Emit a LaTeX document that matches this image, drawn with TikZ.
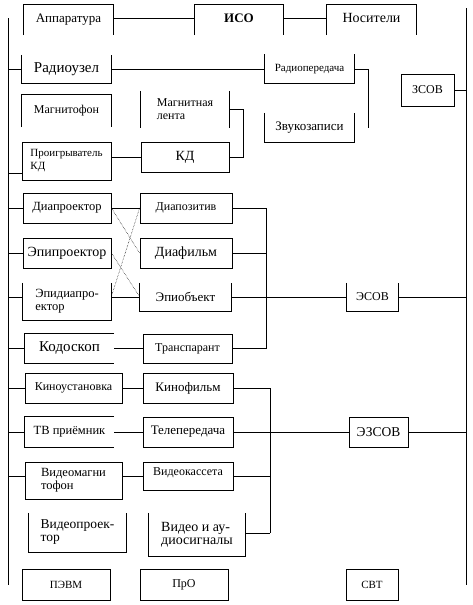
\documentclass[tikz,border=0pt]{standalone}
\usepackage{fontspec}
\setmainfont{Liberation Serif}
\usetikzlibrary{calc}
\newcommand\boxOpenTop[1]{\draw[ln] (#1.north west) -- (#1.south west) -- (#1.south east) -- (#1.north east);}
\newcommand\boxOpenBottom[1]{\draw[ln] (#1.south west) -- (#1.north west) -- (#1.north east) -- (#1.south east);}
\newcommand\boxOpenRight[1]{\draw[ln] (#1.north east) -- (#1.north west) -- (#1.south west) -- (#1.south east);}
\newcommand\boxSides[1]{\draw[ln] (#1.north west) -- (#1.south west) (#1.north east) -- (#1.south east);}
\begin{document}
\begin{tikzpicture}[x=1pt,y=-1pt,
  ln/.style={line width=0.8pt},
  fs/.style={font=\fontsize{#1}{13}\selectfont},
  bx/.style={rectangle, inner sep=2pt, fs=12, align=left},
  full/.style={bx, draw, line width=0.8pt},
  xline/.style={densely dotted, line width=0.5pt}
]
\useasboundingbox (0,0) rectangle (473,605);
% main vertical lines
\coordinate (LT) at (8,18);
\coordinate (LB) at (8,585);
\coordinate (RT) at (466,8);
\coordinate (RB) at (466,585);
\draw[ln] (LT) -- (LB);
\draw[ln] (RT) -- (RB);

% top row
\node[bx, fs=13, minimum width=89pt, minimum height=30pt, text depth=4pt] (app) at (68.5,20) {Аппаратура};
\node[bx, font=\fontsize{13}{14}\selectfont\bfseries, minimum width=88pt, minimum height=30pt, text depth=4pt] (iso) at (239,20) {ИСО};
\node[bx, fs=14, minimum width=89pt, minimum height=30pt, text depth=4pt] (nos) at (371.5,20) {Носители};
\boxOpenBottom{app}
\boxOpenBottom{iso}
\boxOpenBottom{nos}
\draw[ln] (app.east) ++(0,-2) -- ($(iso.west)+(0,-2)$);
\draw[ln] (iso.east) ++(0,-2) -- ($(nos.west)+(0,-2)$);

% audio group
\node[bx, fs=15, minimum width=89pt, minimum height=28pt] (ru) at (66.5,69) {Радиоузел};
\node[bx, fs=11, minimum width=89pt, minimum height=29pt] (rp) at (309.5,69) {Радиопередача};
\node[bx, fs=13, minimum width=89pt, minimum height=29pt] (zk) at (309.5,127.5) {Звукозаписи};
\boxOpenTop{ru}
\boxOpenTop{rp}
\boxOpenTop{zk}
\draw[ln] (ru.west -| LT) -- (ru.west);
\draw[ln] (ru.east) -- (rp.west);
\draw[ln] (rp.east) -| ($(zk.east)+(14,0)$);
\node[full, fs=12, minimum width=53pt, minimum height=32pt] (zsov) at (427.5,90) {ЗСОВ};
\draw[ln] (zsov.east) -- (zsov.east -| RT);

\node[bx, fs=12, minimum width=89pt, minimum height=32pt] (mf) at (66.5,111) {Магнитофон};
\boxOpenBottom{mf}
\node[bx, fs=12, minimum width=88pt, minimum height=37pt] (ml) at (185,109.5) {Магнитная\\лента};
\boxSides{ml}
\node[full, fs=14, minimum width=88pt, minimum height=30pt] (kd) at (185,157) {КД};
\node[full, fs=11, minimum width=89pt, minimum height=38pt] (pkd) at (66.5,161) {Проигрыватель\\КД};
\draw[ln] (ml.east) -- ++(14,0) |- (kd.east);
\draw[ln] (kd.west -| pkd.east) -- (kd.west);
\coordinate (pkdL) at ($(pkd.south west)+(0,-7)$);
\draw[ln] (pkdL -| LT) -- (pkdL);

% visual group
\node[full, fs=12.5, minimum width=88pt, minimum height=30pt] (dpr) at (67,208) {Диапроектор};
\node[full, fs=12, minimum width=92pt, minimum height=30pt] (dpz) at (186,208) {Диапозитив};
\node[full, fs=14, minimum width=88pt, minimum height=30pt] (epr) at (67,253) {Эпипроектор};
\node[full, fs=14, minimum width=92pt, minimum height=30pt] (dfl) at (186,253) {Диафильм};
\node[bx, fs=12.5, minimum width=88pt, minimum height=37pt] (edp) at (67,301.5) {Эпидиапро-\\ектор};
\node[bx, fs=13, minimum width=91pt, minimum height=28pt] (eob) at (185.5,297) {Эпиобъект};
\boxOpenTop{edp}
\boxOpenTop{eob}
\node[bx, fs=15, minimum width=89pt, minimum height=30pt] (kod) at (69.5,348.5) {Кодоскоп};
\boxOpenRight{kod}
\node[full, fs=12, minimum width=89pt, minimum height=29pt] (trn) at (187.5,348.5) {Транспарант};
\node[bx, fs=12, minimum width=51pt, minimum height=28pt] (esov) at (372.5,297) {ЭСОВ};
\boxOpenTop{esov}

\draw[ln] (dpr.west -| LT) -- (dpr.west);
\draw[ln] (epr.west -| LT) -- (epr.west);
\coordinate (edpL) at (edp.west |- eob.west);
\draw[ln] (edpL -| LT) -- (edpL);
\draw[ln] (kod.west -| LT) -- (kod.west);
\draw[ln] (dpr.east) -- (dpz.west);
\draw[ln] (edp.east |- eob.west) -- (eob.west);
\draw[ln] (kod.east) -- (trn.west);
\draw[xline] (dpr.east) -- (dfl.west);
\draw[xline] (epr.east) -- (eob.west);
\draw[xline] (edp.east |- eob.west) -- (dpz.west);

\coordinate (B1t) at (266,208);
\coordinate (B1b) at (266,348.5);
\draw[ln] (B1t) -- (B1b);
\draw[ln] (dpz.east) -- (B1t);
\draw[ln] (dfl.east) -- (dfl.east -| B1t);
\draw[ln] (trn.east) -- (B1b);
\draw[ln] (eob.east) -- (esov.west);
\draw[ln] (esov.east) -- (esov.east -| RT);

% audiovisual group
\node[full, fs=12, minimum width=97pt, minimum height=30pt] (kus) at (73.5,388) {Киноустановка};
\node[full, fs=13, minimum width=90pt, minimum height=30pt] (kfl) at (188,388) {Кинофильм};
\node[bx, fs=12.5, minimum width=89pt, minimum height=30pt] (tvp) at (69.5,432) {ТВ приёмник};
\boxOpenRight{tvp}
\node[full, fs=13, minimum width=90pt, minimum height=30pt] (tlp) at (188,432) {Телепередача};
\node[full, fs=13.5, minimum width=59pt, minimum height=30pt] (ezsov) at (378.5,432) {ЭЗСОВ};
\node[full, fs=12.5, minimum width=97pt, minimum height=37pt] (vmf) at (73.5,480.5) {Видеомагни\\тофон};
\node[full, fs=12, minimum width=90pt, minimum height=28pt, text depth=8pt] (vks) at (188,476) {Видеокассета};
\node[bx, fs=13.5, minimum width=97pt, minimum height=39pt] (vpr) at (77.5,532.5) {Видеопроек-\\тор};
\boxOpenTop{vpr}
\node[bx, fs=14, minimum width=96pt, minimum height=43pt] (vas) at (197,534.5) {Видео и ау-\\диосигналы};
\boxOpenTop{vas}

\draw[ln] (kus.west -| LT) -- (kus.west);
\draw[ln] (tvp.west -| LT) -- (tvp.west);
\coordinate (vmfL) at (vmf.west |- vks.west);
\draw[ln] (vmfL -| LT) -- (vmfL);
\draw[ln] (kus.east) -- (kfl.west);
\draw[ln] (tvp.east) -- (tlp.west);
\draw[ln] (vmf.east |- vks.west) -- (vks.west);

\coordinate (B2t) at (270,388);
\coordinate (B2b) at (270,533);
\draw[ln] (B2t) -- (B2b);
\draw[ln] (kfl.east) -- (B2t);
\draw[ln] (tlp.east) -- (ezsov.west);
\draw[ln] (vks.east) -- (vks.east -| B2t);
\draw[ln] (vas.east |- B2b) -- (B2b);
\draw[ln] (ezsov.east) -- (ezsov.east -| RT);

% bottom row
\node[full, fs=11, minimum width=88pt, minimum height=31pt] (pevm) at (66,584.5) {ПЭВМ};
\node[full, fs=12, minimum width=88pt, minimum height=31pt] (pro) at (184,584.5) {ПрО};
\node[full, fs=11, minimum width=52pt, minimum height=31pt] (svt) at (372,584.5) {СВТ};
\end{tikzpicture}
\end{document}
